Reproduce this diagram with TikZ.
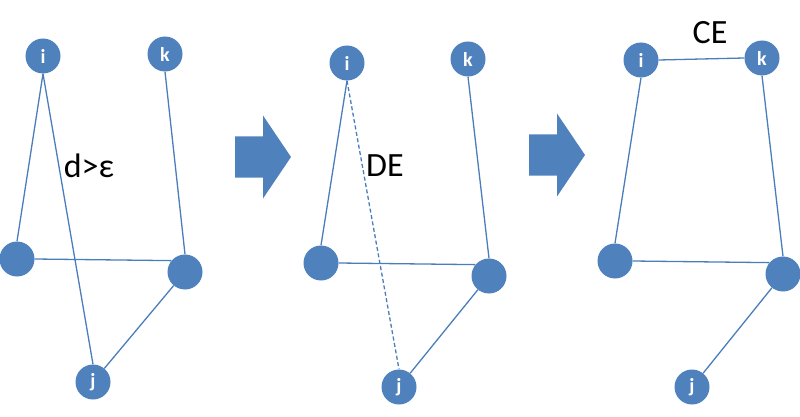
\documentclass[tikz,border=0pt]{standalone}
\usepackage{fontspec}
\setmainfont{Carlito}
\usetikzlibrary{positioning,calc}
\definecolor{cNode}{HTML}{4F81BD}
\definecolor{cEdge}{HTML}{4A7EBB}
\tikzset{
  vtx/.style={circle, fill=cNode, draw=none, minimum size=35pt, inner sep=0pt,
              text=white, font=\fontsize{20}{20}\selectfont\bfseries},
  edg/.style={draw=cEdge, line width=1.3pt},
  edgd/.style={edg, dash pattern=on 4pt off 2.5pt},
  tag/.style={font=\fontsize{34}{34}\selectfont, inner sep=0pt, text=black},
  bigar/.style={fill=cNode, draw=none},
}

\begin{document}
\begin{tikzpicture}[x=1pt, y=-1pt]
    \useasboundingbox (0,0) rectangle (800,417);

    % --- panel 1 ---
    \node[vtx] (i1) at (43,56)   {i};
    \node[vtx] (k1) at (165,54)  {k};
    \node[vtx] (l1) at (17,259)  {};
    \node[vtx] (r1) at (185,272) {};
    \node[vtx] (j1) at (93,382)  {j};
    \draw[edg] (i1.south) -- (l1.north);
    \draw[edg] (i1.south) -- (j1.north);
    \draw[edg] (k1.south) -- (r1.north);
    \draw[edg] (l1.east)  -- (r1.140);
    \draw[edg] (r1) -- (j1);
    \node[tag] (t1) at (89,166) {d>ε};

    % --- panel 2 ---
    \node[vtx] (i2) at (347,63)  {i};
    \node[vtx] (k2) at (468,59)  {k};
    \node[vtx] (l2) at (321,263) {};
    \node[vtx] (r2) at (489,276) {};
    \node[vtx] (j2) at (399,387) {j};
    \draw[edg]  (i2.south) -- (l2.north);
    \draw[edgd] (i2.south) -- (j2.north);
    \draw[edg]  (k2.south) -- (r2.north);
    \draw[edg]  (l2.east)  -- (r2.140);
    \draw[edg]  (r2) -- (j2);
    \node[tag] (t2) at (385,166) {DE};

    % --- panel 3 ---
    \node[vtx] (i3) at (641,60)  {i};
    \node[vtx] (k3) at (762,58)  {k};
    \node[vtx] (l3) at (615,261) {};
    \node[vtx] (r3) at (783,274) {};
    \node[vtx] (j3) at (692,387) {j};
    \draw[edg] (i3.east)  -- (k3.west);
    \draw[edg] (i3.south) -- (l3.north);
    \draw[edg] (k3.south) -- (r3.north);
    \draw[edg] (l3.east)  -- (r3.140);
    \draw[edg] (r3) -- (j3);
    \node[tag] (t3) at (710,33) {CE};

    % --- block arrows between panels ---
    \foreach \ax/\ay in {291/157, 585/155}
      \fill[bigar, shift={(\ax,\ay)}] (-56,-20.5) -- (-28,-20.5) -- (-28,-41.5) -- (0,0)
          -- (-28,41.5) -- (-28,20.5) -- (-56,20.5) -- cycle;
\end{tikzpicture}
\end{document}
